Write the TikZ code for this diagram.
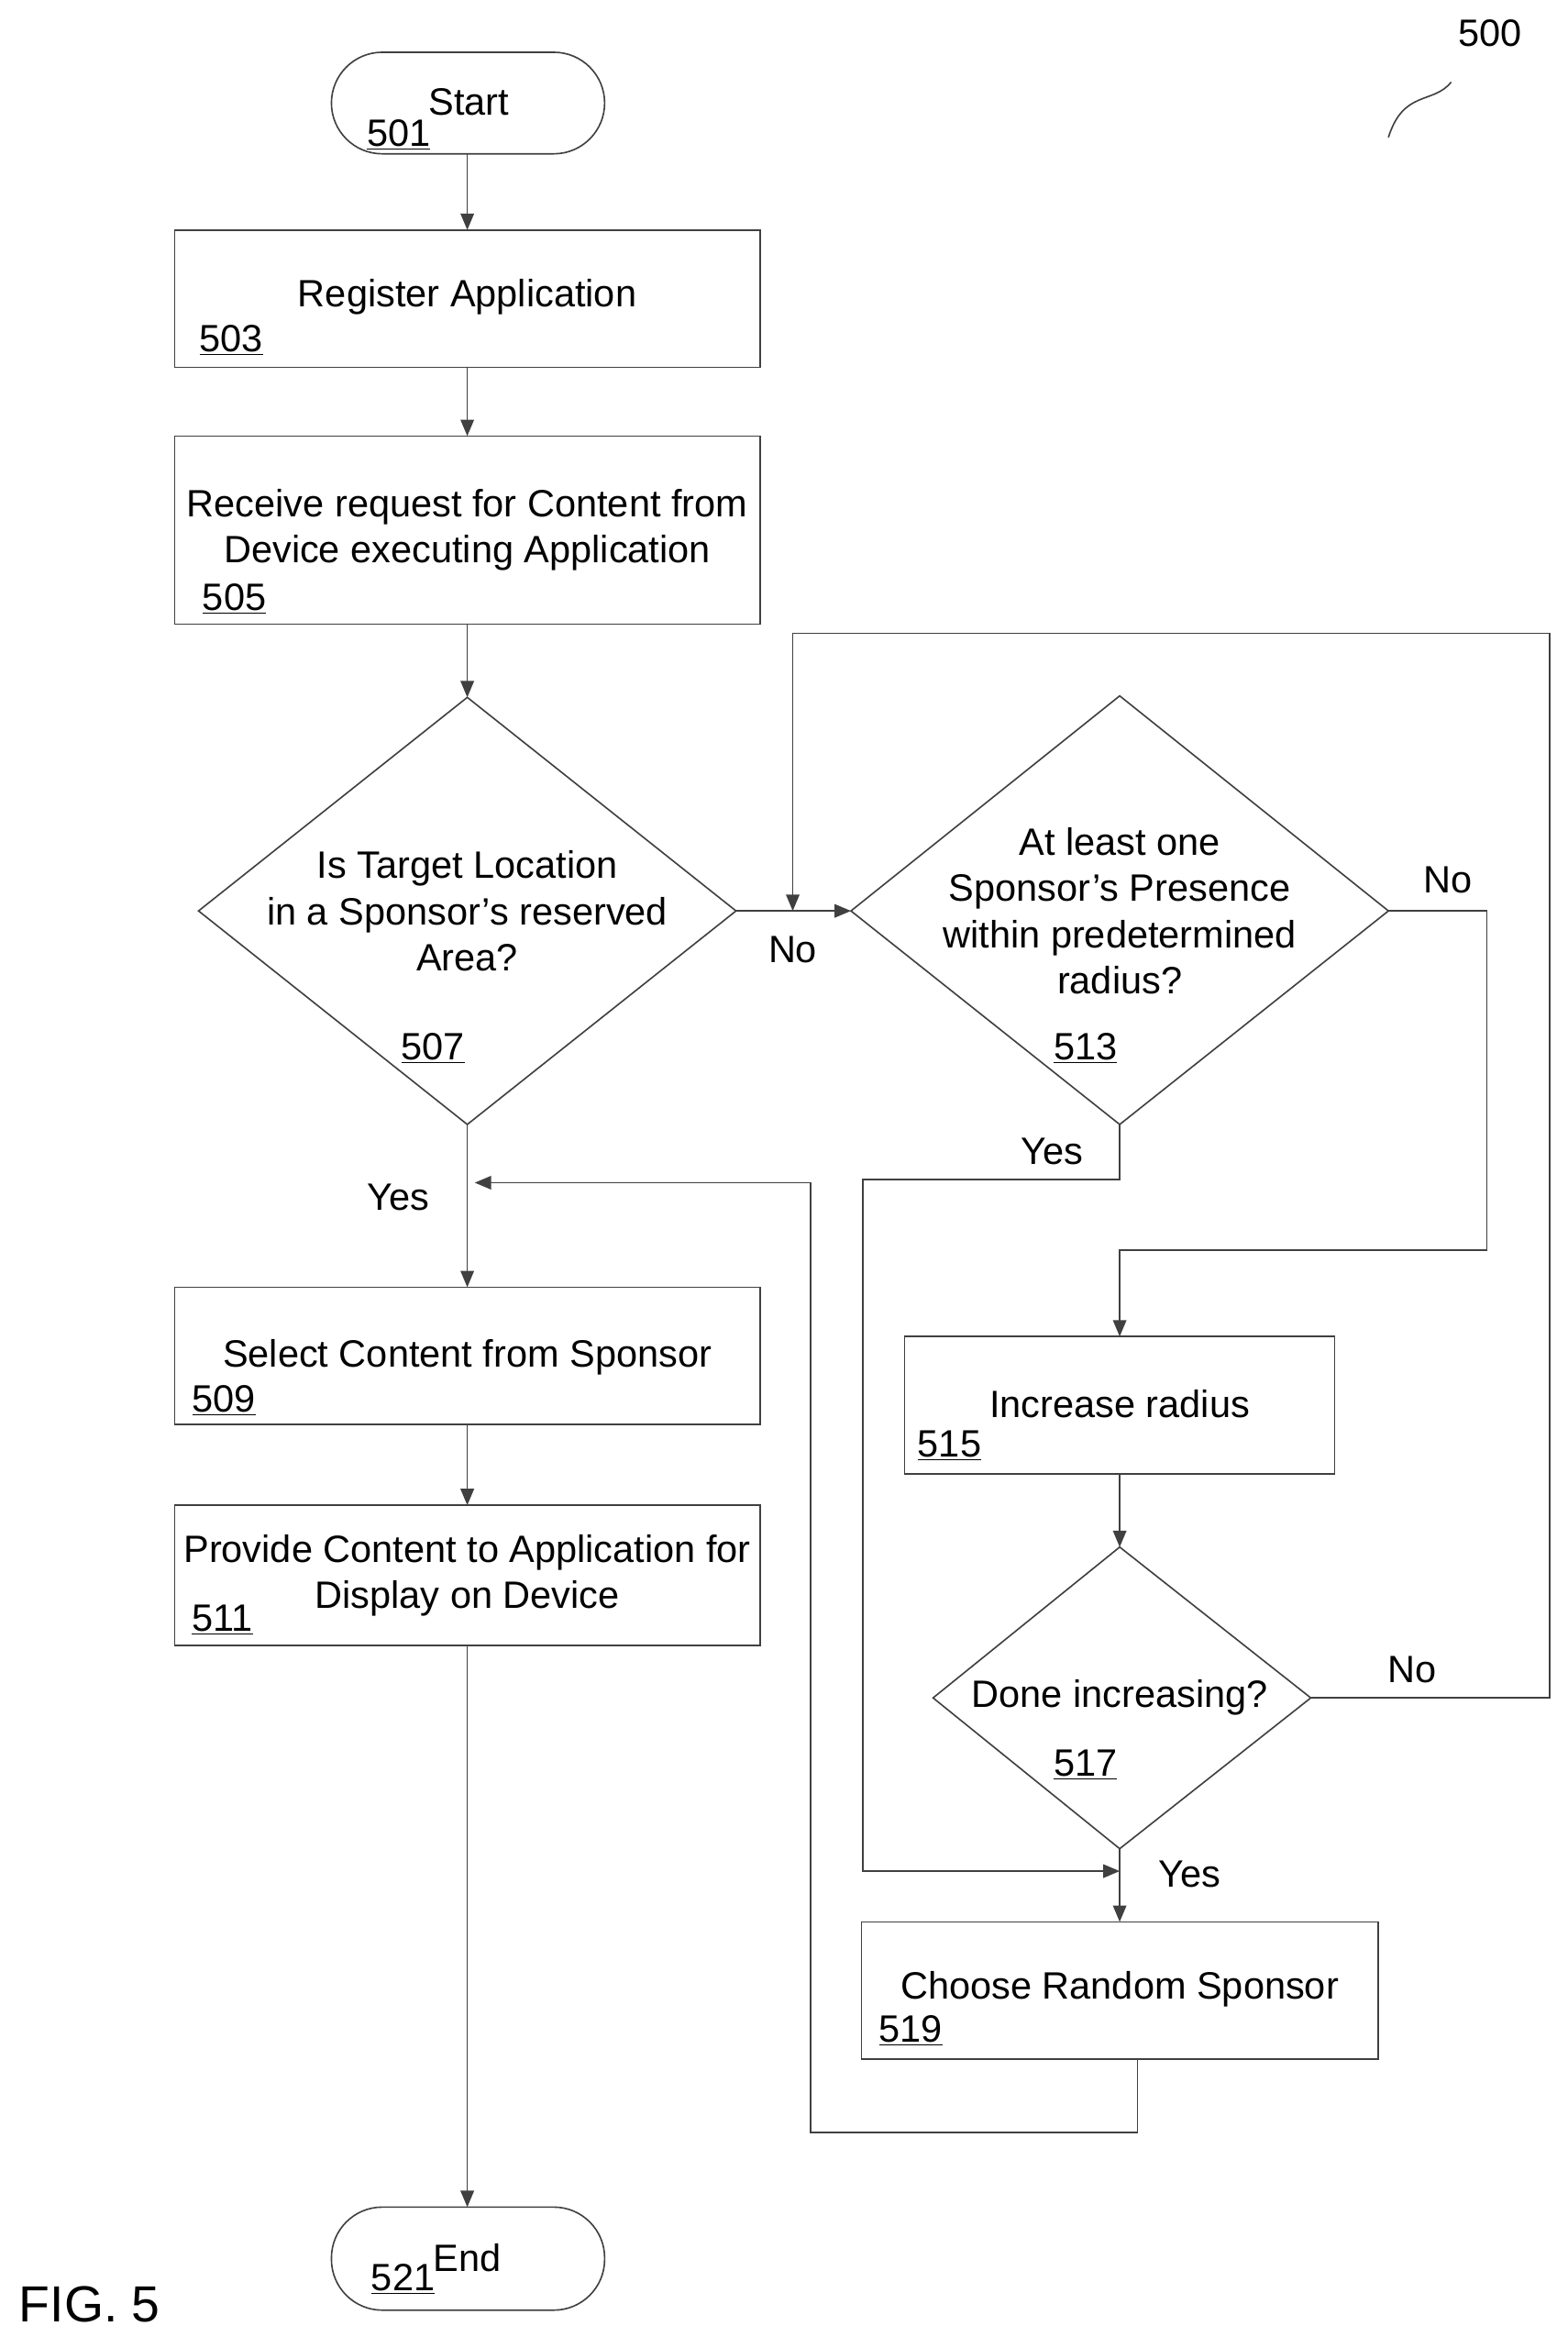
\documentclass[tikz,border=0pt]{standalone}
\usepackage{fontspec}
\setmainfont{Liberation Sans}
\usetikzlibrary{shapes.geometric,arrows.meta}
\begin{document}
\begin{tikzpicture}[x=1pt,y=-1pt,
  every node/.style={font=\fontsize{25.5}{31}\selectfont, text=black},
  box/.style={draw=black!75, line width=1pt, inner sep=0},
  ln/.style={draw=black!75, line width=1pt},
  ar/.style={ln, -{Triangle[length=11pt,width=9pt]}},
  lab/.style={inner sep=0},
  num/.style={inner sep=0}]
\useasboundingbox (0,0) rectangle (1050,1565);
% start
\draw[box, rounded corners=34] (222,35) rectangle (405,103);
\node[lab] at (314,68) {Start};
\node[num] at (267,90) {\underline{501}};
% 500
\node[lab] at (998,22) {500};
\draw[ln] (930,92) .. controls (940,60) and (960,70) .. (972,55);
% 503
\draw[box] (117,154) rectangle (509,246);
\node[lab] at (313,199) {Register Application};
\node[num] at (155,228) {\underline{503}};
% 505
\draw[box] (117,292) rectangle (509,418);
\node[lab, align=center] at (313,355) {Receive request for Content from\\Device executing Application};
\node[num] at (157,401) {\underline{505}};
% 507
\coordinate (d1t) at (313,467); \coordinate (d1b) at (313,753);
\coordinate (d1l) at (133,610); \coordinate (d1r) at (493,610);
\draw[box] (d1t)--(d1r)--(d1b)--(d1l)--cycle;
\node[lab, align=center] at (313,610) {Is Target Location\\in a Sponsor’s reserved\\Area?};
\node[num] at (290,702) {\underline{507}};
% 513
\coordinate (d2t) at (750,466); \coordinate (d2b) at (750,753);
\coordinate (d2l) at (570,610); \coordinate (d2r) at (930,610);
\draw[box] (d2t)--(d2r)--(d2b)--(d2l)--cycle;
\node[lab, align=center] at (750,610) {At least one\\Sponsor’s Presence\\within predetermined\\radius?};
\node[num] at (727,702) {\underline{513}};
% 509
\draw[box] (117,862) rectangle (509,954);
\node[lab] at (313,909) {Select Content from Sponsor};
\node[num] at (150,938) {\underline{509}};
% 511
\draw[box] (117,1008) rectangle (509,1102);
\node[lab, align=center] at (313,1055) {Provide Content to Application for\\Display on Device};
\node[num] at (149,1085) {\underline{511}};
% 515
\draw[box] (606,895) rectangle (894,987);
\node[lab] at (750,940) {Increase radius};
\node[num] at (636,968) {\underline{515}};
% 517
\coordinate (d3t) at (750,1036); \coordinate (d3b) at (750,1238);
\coordinate (d3l) at (625,1137); \coordinate (d3r) at (878,1137);
\draw[box] (d3t)--(d3r)--(d3b)--(d3l)--cycle;
\node[lab] at (750,1137) {Done increasing?};
\node[num] at (727,1182) {\underline{517}};
% 519
\draw[box] (577,1287) rectangle (923,1379);
\node[lab] at (750,1332) {Choose Random Sponsor};
\node[num] at (610,1360) {\underline{519}};
% end
\draw[box, rounded corners=34] (222,1478) rectangle (405,1547);
\node[lab] at (313,1512) {End};
\node[num] at (270,1526) {\underline{521}};
\node[lab, font=\fontsize{34}{40}\selectfont] at (60,1543) {FIG. 5};
% connectors
\draw[ar] (313,103) -- (313,154);
\draw[ar] (313,246) -- (313,292);
\draw[ar] (313,418) -- (d1t);
\draw[ar] (d1r) -- (d2l);
\node[lab] at (531,636) {No};
\draw[ar] (d2r) -- (996,610) -- (996,837) -- (750,837) -- (750,895);
\node[lab] at (970,589) {No};
\draw[ar] (d2b) -- (750,790) -- (578,790) -- (578,1253) -- (750,1253);
\node[lab] at (705,771) {Yes};
\draw[ar] (750,987) -- (d3t);
\draw[ar] (d3r) -- (1038,1137) -- (1038,424) -- (531,424) -- (531,610);
\node[lab] at (946,1118) {No};
\draw[ar] (d3b) -- (750,1287);
\node[lab] at (797,1255) {Yes};
\draw[ar] (762,1379) -- (762,1428) -- (543,1428) -- (543,792) -- (318,792);
\draw[ar] (d1b) -- (313,862);
\node[lab] at (267,802) {Yes};
\draw[ar] (313,954) -- (313,1008);
\draw[ar] (313,1102) -- (313,1478);
\end{tikzpicture}
\end{document}
